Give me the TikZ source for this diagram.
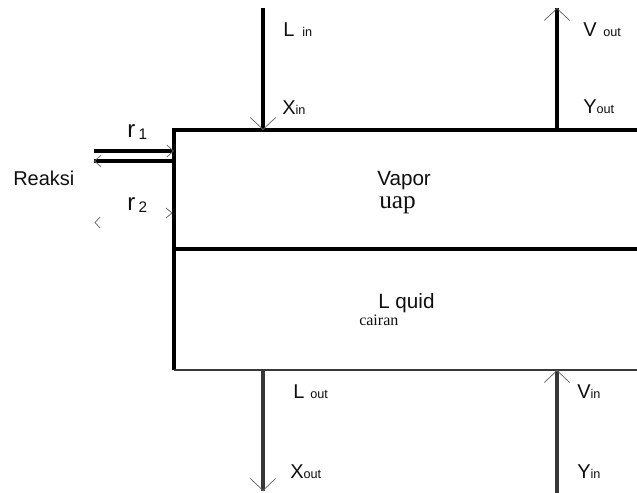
\documentclass[tikz,border=0pt]{standalone}
\usepackage{fontspec}
\setmainfont{Liberation Sans}
\newfontfamily\serifx{Liberation Serif}
\usetikzlibrary{arrows.meta}
\definecolor{wallc}{RGB}{0,0,0}
\definecolor{lowc}{RGB}{55,55,55}
\definecolor{tipc}{RGB}{100,100,100}
\definecolor{textc}{RGB}{15,15,15}
\newcommand{\sm}{\fontsize{9.5}{10}\selectfont}
\tikzset{
  wall/.style     = {line width=2.4pt, draw=wallc},
  lowwall/.style  = {line width=1.8pt, draw=lowc},
  stream/.style   = {draw=wallc, line width=0.55pt,
                     -{Straight Barb[length=9pt, width=19pt, color=tipc]},
                     preaction={draw=wallc, line width=3pt, -}},
  lowstream/.style= {draw=lowc, line width=0.55pt,
                     -{Straight Barb[length=9pt, width=19pt, color=tipc]},
                     preaction={draw=lowc, line width=2.6pt, -}},
  react/.style    = {draw=wallc, line width=0.55pt,
                     -{Straight Barb[length=5pt, width=9pt, color=tipc]},
                     preaction={draw=wallc, line width=2.8pt, -}},
  barb/.style     = {line width=0.55pt, draw=tipc},
  lbl/.style      = {font=\fontsize{15}{17}\selectfont, text=textc, inner sep=0pt, anchor=base west},
  phase/.style    = {font=\fontsize{15.5}{17}\selectfont, text=textc, inner sep=0pt, anchor=base west},
  local/.style    = {font=\serifx\fontsize{19}{21}\selectfont, text=textc, inner sep=0pt, anchor=base west},
}
\begin{document}
\begin{tikzpicture}[x=0.75pt, y=-0.75pt]
\useasboundingbox (0,0) rectangle (637,493);

% vessel
\coordinate (tl) at (174,130);
\coordinate (tr) at (637,130);
\coordinate (ml) at (174,249);
\coordinate (mr) at (637,249);
\coordinate (bl) at (174,370);
\coordinate (br) at (637,370);
\draw[wall] (tr) -- (tl) -- (ml) -- (mr);
\draw[wall] (ml) -- (bl);
\draw[lowwall] (bl) -- (br);

% streams
\coordinate (lintop) at (263,8);
\coordinate (linend) at (263,130);
\coordinate (voutend) at (557,8);
\coordinate (voutbot) at (557,130);
\coordinate (louttop) at (263,370);
\coordinate (loutend) at (263,491);
\coordinate (vinbot) at (557,493);
\coordinate (vinend) at (557,370);
\draw[stream] (lintop) -- (linend);
\draw[stream] (voutbot) -- (voutend);
\draw[lowstream] (louttop) -- (loutend);
\draw[lowstream] (vinbot) -- (vinend);

\node[lbl] (lin) at (283,36) {L\hspace{6pt}{\sm in}};
\node[lbl] (xin) at (282,114) {X{\sm in}};
\node[lbl] (vout) at (583,36) {V\hspace{5pt}{\sm out}};
\node[lbl] (yout) at (583,113) {Y{\sm out}};
\node[lbl] (lout) at (293,398) {L\hspace{4.5pt}{\sm out}};
\node[lbl] (xout) at (290,478) {X{\sm out}};
\node[lbl] (vin) at (577,398) {V{\sm in}};
\node[lbl] (yin) at (577,478) {Y{\sm in}};

% reaction
\coordinate (r1a) at (94,151);
\coordinate (r1b) at (174,151);
\coordinate (r2a) at (174,161);
\coordinate (r2b) at (94,161);
\draw[react] (r1a) -- (r1b);
\draw[react] (r2a) -- (r2b);
\draw[barb] (166,208) -- (172,213) -- (166,218);
\draw[barb] (100,217) -- (95,222.5) -- (100,228);

\node[lbl] (reaksi) at (13,185) {Reaksi};
\node[lbl, font=\fontsize{18}{20}\selectfont] (r1) at (127,137)
  {r\hspace{2.5pt}\raisebox{-1.5pt}{\fontsize{11.5}{12}\selectfont 1}};
\node[lbl, font=\fontsize{18}{20}\selectfont] (r2) at (127,210)
  {r\hspace{2.5pt}\raisebox{-1.5pt}{\fontsize{11.5}{12}\selectfont 2}};

% phases
\node[phase] (vapor) at (377,185) {Vapor};
\node[local] (uap) at (379,208) {uap};
\node[phase] (liquid) at (378,308) {L quid};
\node[local, font=\serifx\fontsize{12}{14}\selectfont] (cairan) at (359,325) {cairan};

\end{tikzpicture}
\end{document}
